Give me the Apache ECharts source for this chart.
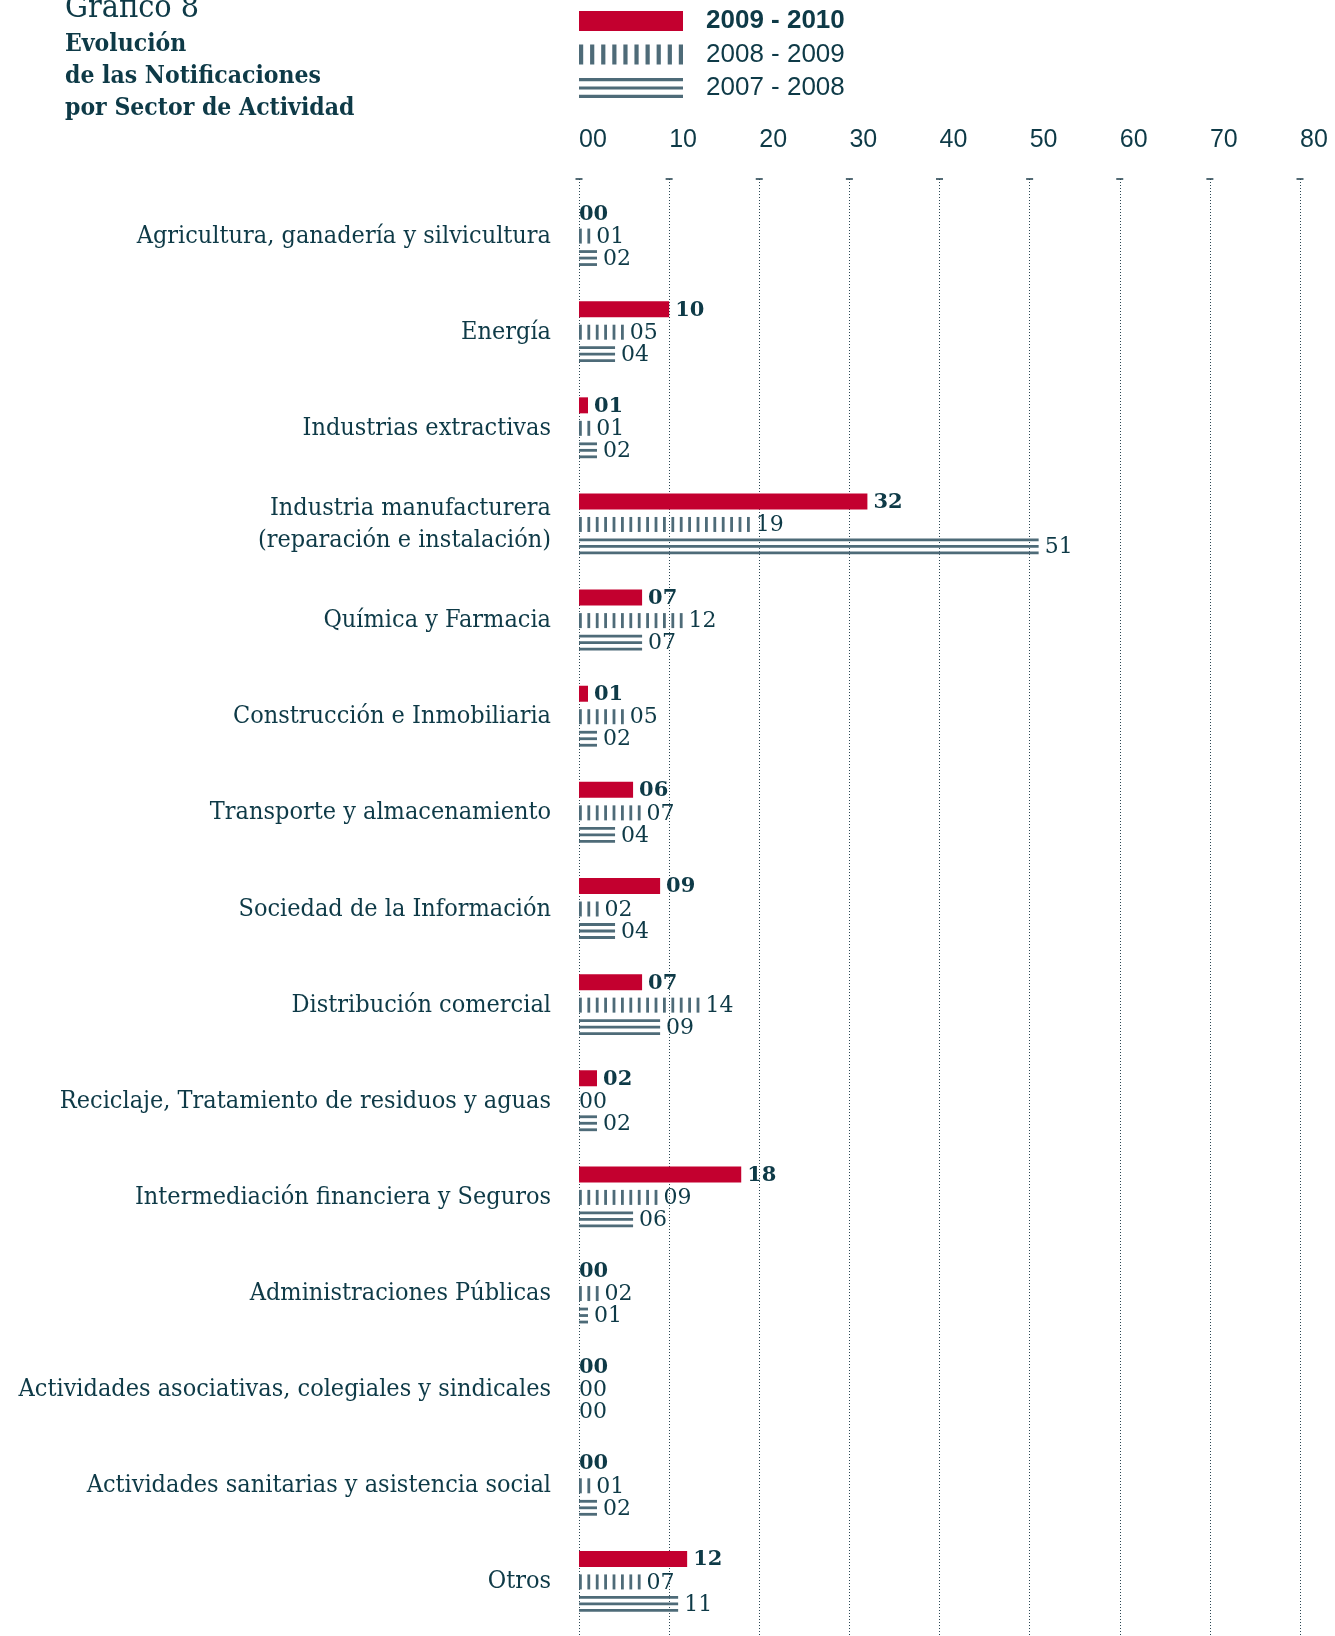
<!DOCTYPE html>
<html><head><meta charset="utf-8">
<script src="https://cdn.jsdelivr.net/npm/echarts@6/dist/echarts.min.js"></script>
<style>html,body{margin:0;padding:0;background:#fff}#c{width:1335px;height:1636px}</style>
</head><body><div id="c"></div>
<script>
const categories = [
  'Agricultura, ganadería y silvicultura',
  'Energía',
  'Industrias extractivas',
  'Industria manufacturera\n(reparación e instalación)',
  'Química y Farmacia',
  'Construcción e Inmobiliaria',
  'Transporte y almacenamiento',
  'Sociedad de la Información',
  'Distribución comercial',
  'Reciclaje, Tratamiento de residuos y aguas',
  'Intermediación financiera y Seguros',
  'Administraciones Públicas',
  'Actividades asociativas, colegiales y sindicales',
  'Actividades sanitarias y asistencia social',
  'Otros'
];
const values2010 = [0, 10, 1, 32, 7, 1, 6, 9, 7, 2, 18, 0, 0, 0, 12];
const values2009 = [1, 5, 1, 19, 12, 5, 7, 2, 14, 0, 9, 2, 0, 1, 7];
const values2008 = [2, 4, 2, 51, 7, 2, 4, 4, 9, 2, 6, 1, 0, 2, 11];
const seriesNames = ['2009 - 2010', '2008 - 2009', '2007 - 2008'];
const xTicks = [0, 10, 20, 30, 40, 50, 60, 70, 80];
const titleLines = ['Gráfico 8', 'Evolución', 'de las Notificaciones', 'por Sector de Actividad'];

const RED = '#c3002f', GREY = '#4e6b78', TXT = '#0e3a47', GRIDC = '#2b4754';
const SERIFC = "'DejaVu Serif Condensed', 'DejaVu Serif', serif";
const SERIF = "'DejaVu Serif', serif";
const SANS = "'Liberation Sans Narrow', 'Liberation Sans', sans-serif";
const pad = v => (v < 10 ? '0' : '') + v;

function stripesPath(w, h, n, sw) {
  const step = (w - sw) / (n - 1); let d = '';
  for (let i = 0; i < n; i++) { const x = (i * step).toFixed(2); d += 'M' + x + ' 0h' + sw + 'v' + h + 'h-' + sw + 'z'; }
  return 'path://' + d;
}
function linesPath(w, h, t) {
  const mid = (h - t) / 2;
  return 'path://M0 0h' + w + 'v' + t + 'h-' + w + 'zM0 ' + mid + 'h' + w + 'v' + t + 'h-' + w + 'zM0 ' + (h - t) + 'h' + w + 'v' + t + 'h-' + w + 'z';
}

function makeRender(kind, offset) {
  return function (params, api) {
    const v = api.value(0), c = api.value(1);
    const p0 = api.coord([0, c]), p1 = api.coord([v, c]);
    const yc = p0[1] + offset, x0 = p0[0], w = p1[0] - p0[0];
    const ch = [];
    let end = x0 + w;
    if (kind === 'solid' && w > 0) {
      ch.push({ type: 'rect', shape: { x: x0, y: yc - 8, width: w, height: 16 }, style: { fill: RED } });
    } else if (kind === 'stripes' && w > 0) {
      const period = 8.4, sw = 2.8;
      for (let x = 0; x <= w - 0.5; x += period) {
        ch.push({ type: 'rect', shape: { x: x0 + x, y: yc - 7.5, width: sw, height: 15 }, style: { fill: GREY } });
        end = x0 + x + sw;
      }
    } else if (kind === 'lines' && w > 0) {
      [-6.5, 0, 6.5].forEach(o => ch.push({ type: 'rect', shape: { x: x0, y: yc + o - 1.4, width: w, height: 2.8 }, style: { fill: GREY } }));
    }
    ch.push({
      type: 'text',
      style: {
        x: end + (v > 0 ? 6 : 0), y: yc + 1, text: pad(v), align: 'left', verticalAlign: 'middle',
        fontFamily: SERIF, fontSize: kind === 'solid' ? 21 : 22, fontWeight: kind === 'solid' ? 'bold' : 'normal', fill: TXT
      }
    });
    return { type: 'group', children: ch };
  };
}

const chart = echarts.init(document.getElementById('c'), null, { renderer: 'canvas' });
const option = {
  backgroundColor: '#fff',
  animation: false,
  graphic: [
    { type: 'text', left: 65, top: -7, style: { text: titleLines[0], fontFamily: SERIFC, fontSize: 32, fill: TXT } },
    { type: 'text', left: 65, top: 29, style: { text: titleLines.slice(1).join('\n'), lineHeight: 32, fontFamily: SERIFC, fontWeight: 'bold', fontSize: 24.5, fill: TXT } }
  ],
  legend: {
    orient: 'vertical', left: 579, top: 8, itemWidth: 104, itemHeight: 20, itemGap: 7.5, padding: 0,
    selectedMode: false,
    data: [
      { name: seriesNames[0], icon: 'rect' },
      { name: seriesNames[1], icon: stripesPath(104, 20, 10, 4.2) },
      { name: seriesNames[2], icon: linesPath(104, 20, 3.2) }
    ],
    formatter: n => n === seriesNames[0] ? '{b|' + n + '}' : n,
    textStyle: {
      fontFamily: SANS, fontSize: 26, color: TXT, padding: [0, 0, 0, 18],
      rich: { b: { fontFamily: SANS, fontSize: 26, fontWeight: 'bold', color: TXT } }
    }
  },
  grid: [
    { left: 579, right: 35, top: 188, bottom: 6 },
    { left: 579, right: 35, top: 179, bottom: 0 }
  ],
  xAxis: [
    { gridIndex: 0, type: 'value', min: 0, max: 80, interval: 10, show: false },
    {
      gridIndex: 1, type: 'value', min: 0, max: 80, interval: 10, position: 'top',
      axisLine: { show: false }, axisTick: { show: false },
      axisLabel: { formatter: v => pad(v), align: 'left', margin: 26, fontFamily: SANS, fontSize: 25, color: TXT },
      splitLine: { show: true, lineStyle: { color: GRIDC, width: 1, type: [1, 2] } }
    }
  ],
  yAxis: [
    {
      gridIndex: 0, type: 'category', data: categories, inverse: true,
      axisLine: { show: false }, axisTick: { show: false }, splitLine: { show: false },
      axisLabel: { margin: 28, fontFamily: SERIFC, fontSize: 25, lineHeight: 32, color: TXT, align: 'right' }
    },
    { gridIndex: 1, type: 'value', min: 0, max: 1, show: false }
  ],
  series: [
    {
      name: 'ticks', type: 'scatter', xAxisIndex: 1, yAxisIndex: 1, silent: true,
      symbol: 'rect', symbolSize: [7, 2], itemStyle: { color: GRIDC },
      data: xTicks.map(t => [t, 1])
    },
    {
      name: seriesNames[0], type: 'custom', xAxisIndex: 0, yAxisIndex: 0, itemStyle: { color: RED },
      renderItem: makeRender('solid', -23), encode: { x: 0, y: 1 },
      data: values2010.map((v, i) => [v, i]), z: 5
    },
    {
      name: seriesNames[1], type: 'custom', xAxisIndex: 0, yAxisIndex: 0, itemStyle: { color: GREY },
      renderItem: makeRender('stripes', 0), encode: { x: 0, y: 1 },
      data: values2009.map((v, i) => [v, i]), z: 5
    },
    {
      name: seriesNames[2], type: 'custom', xAxisIndex: 0, yAxisIndex: 0, itemStyle: { color: GREY },
      renderItem: makeRender('lines', 22), encode: { x: 0, y: 1 },
      data: values2008.map((v, i) => [v, i]), z: 5
    }
  ]
};
chart.setOption(option);
</script></body></html>
